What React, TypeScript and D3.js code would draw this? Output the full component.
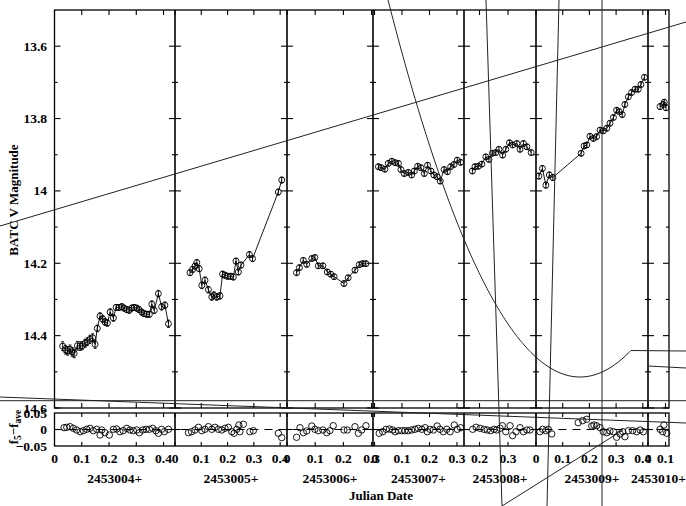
import React from "react";
import * as d3 from "d3";

// ---------- data ----------
const DATE_LABELS = ["2453004+", "2453005+", "2453006+", "2453007+", "2453008+", "2453009+", "2453010+"];
// visible day-fraction window of each night
const DAY_DOMAINS: [number, number][] = [
  [0, 0.442], [0, 0.426], [0, 0.305], [-0.0055, 0.3255], [0.1456, 0.398], [0, 0.4195], [0, 0.12],
];

// [day fraction, magnitude, error]
const N1: [number, number, number][] = [
  [0.030, 14.429, 0.012], [0.040, 14.439, 0.012], [0.048, 14.442, 0.012], [0.057, 14.438, 0.012],
  [0.065, 14.445, 0.012], [0.072, 14.449, 0.012], [0.084, 14.428, 0.012], [0.094, 14.429, 0.012],
  [0.102, 14.428, 0.011], [0.112, 14.421, 0.011], [0.120, 14.417, 0.011], [0.130, 14.410, 0.011],
  [0.140, 14.406, 0.011], [0.149, 14.424, 0.011], [0.157, 14.380, 0.009], [0.167, 14.346, 0.009],
  [0.177, 14.354, 0.009], [0.185, 14.362, 0.009], [0.194, 14.365, 0.009], [0.204, 14.335, 0.009],
  [0.216, 14.351, 0.009], [0.226, 14.322, 0.008], [0.237, 14.322, 0.008], [0.247, 14.320, 0.008],
  [0.255, 14.324, 0.008], [0.265, 14.328, 0.008], [0.274, 14.330, 0.008], [0.283, 14.324, 0.008],
  [0.292, 14.322, 0.008], [0.302, 14.324, 0.008], [0.310, 14.328, 0.008], [0.320, 14.335, 0.008],
  [0.328, 14.339, 0.008], [0.338, 14.341, 0.008], [0.348, 14.341, 0.008], [0.357, 14.313, 0.009],
  [0.366, 14.330, 0.009], [0.381, 14.284, 0.009], [0.393, 14.320, 0.009], [0.405, 14.316, 0.009],
  [0.418, 14.367, 0.010],
];
const N2: [number, number, number][] = [
  [0.057, 14.226, 0.008], [0.067, 14.217, 0.008], [0.076, 14.208, 0.008], [0.083, 14.198, 0.008],
  [0.092, 14.215, 0.008], [0.102, 14.261, 0.009], [0.114, 14.247, 0.009], [0.127, 14.273, 0.009],
  [0.140, 14.293, 0.009], [0.148, 14.288, 0.009], [0.159, 14.293, 0.009], [0.171, 14.290, 0.009],
  [0.181, 14.230, 0.008], [0.190, 14.233, 0.008], [0.200, 14.236, 0.008], [0.212, 14.236, 0.008],
  [0.222, 14.238, 0.008], [0.232, 14.194, 0.008], [0.241, 14.224, 0.008], [0.251, 14.205, 0.008],
  [0.283, 14.176, 0.008], [0.295, 14.187, 0.008], [0.393, 14.003, 0.008], [0.406, 13.970, 0.008],
];
const N3: [number, number, number][] = [
  [0.034, 14.226, 0.007], [0.044, 14.212, 0.007], [0.058, 14.192, 0.007], [0.070, 14.203, 0.007],
  [0.088, 14.187, 0.007], [0.099, 14.184, 0.007], [0.111, 14.207, 0.007], [0.127, 14.207, 0.007],
  [0.143, 14.224, 0.007], [0.155, 14.230, 0.007], [0.167, 14.237, 0.007], [0.202, 14.256, 0.007],
  [0.217, 14.240, 0.007], [0.241, 14.219, 0.007], [0.256, 14.204, 0.007], [0.268, 14.201, 0.007],
  [0.280, 14.201, 0.007],
];
const N4: [number, number, number][] = [
  [0.014, 13.933, 0.007], [0.024, 13.936, 0.007], [0.038, 13.940, 0.007], [0.050, 13.924, 0.007],
  [0.063, 13.918, 0.007], [0.075, 13.922, 0.007], [0.087, 13.924, 0.007], [0.096, 13.941, 0.007],
  [0.108, 13.952, 0.007], [0.123, 13.949, 0.007], [0.135, 13.956, 0.007], [0.145, 13.945, 0.007],
  [0.157, 13.932, 0.007], [0.169, 13.936, 0.007], [0.181, 13.952, 0.007], [0.193, 13.929, 0.007],
  [0.205, 13.945, 0.007], [0.216, 13.956, 0.007], [0.228, 13.961, 0.007], [0.239, 13.973, 0.007],
  [0.253, 13.941, 0.007], [0.265, 13.947, 0.007], [0.277, 13.933, 0.007], [0.289, 13.927, 0.007],
  [0.301, 13.915, 0.007], [0.313, 13.921, 0.007],
];
const N5: [number, number, number][] = [
  [0.175, 13.945, 0.007], [0.184, 13.933, 0.007], [0.196, 13.932, 0.007], [0.208, 13.926, 0.007],
  [0.222, 13.906, 0.007], [0.233, 13.913, 0.007], [0.245, 13.896, 0.007], [0.257, 13.894, 0.007],
  [0.268, 13.885, 0.007], [0.281, 13.901, 0.007], [0.292, 13.885, 0.007], [0.305, 13.867, 0.007],
  [0.316, 13.873, 0.007], [0.331, 13.869, 0.007], [0.342, 13.885, 0.007], [0.354, 13.869, 0.007],
  [0.366, 13.878, 0.007], [0.381, 13.894, 0.007],
];
const N6: [number, number, number][] = [
  [0.011, 13.959, 0.008], [0.024, 13.938, 0.008], [0.037, 13.984, 0.008], [0.050, 13.956, 0.008],
  [0.063, 13.963, 0.008], [0.169, 13.896, 0.007], [0.180, 13.876, 0.007], [0.190, 13.873, 0.007],
  [0.202, 13.849, 0.007], [0.215, 13.855, 0.007], [0.227, 13.850, 0.007], [0.240, 13.832, 0.007],
  [0.252, 13.834, 0.007], [0.265, 13.827, 0.007], [0.277, 13.813, 0.007], [0.290, 13.797, 0.007],
  [0.302, 13.777, 0.007], [0.312, 13.781, 0.007], [0.323, 13.789, 0.007], [0.333, 13.761, 0.007],
  [0.346, 13.740, 0.007], [0.358, 13.728, 0.007], [0.371, 13.719, 0.007], [0.383, 13.719, 0.007],
  [0.393, 13.706, 0.007], [0.406, 13.686, 0.007],
];
const N7: [number, number, number][] = [
  [0.069, 13.767, 0.008], [0.087, 13.761, 0.008], [0.093, 13.755, 0.008], [0.103, 13.770, 0.008],
];

// residuals [day fraction, f - f_ave]
const R1: [number, number][] = [
  [0.035, 0.0055], [0.045, 0.0067], [0.057, 0.0085], [0.069, 0.0036], [0.081, -0.0015], [0.094, -0.0067],
  [0.106, -0.0036], [0.118, 0.0006], [0.130, 0.0036], [0.142, -0.0036], [0.155, 0.0006], [0.167, -0.0167],
  [0.173, -0.0015], [0.185, -0.0097], [0.201, -0.0167], [0.216, 0.0006], [0.228, 0.0015], [0.240, -0.0067],
  [0.252, -0.0036], [0.265, 0.0036], [0.277, -0.0015], [0.289, -0.0036], [0.302, -0.0015], [0.311, -0.0097],
  [0.324, -0.0015], [0.336, 0.0006], [0.348, 0.0006], [0.360, 0.0036], [0.372, -0.0036], [0.381, -0.0115],
  [0.393, 0.0006], [0.403, -0.0067], [0.418, 0.0006],
];
const R2: [number, number][] = [
  [0.051, -0.0097], [0.063, -0.0067], [0.076, -0.0015], [0.089, 0.0067], [0.102, -0.0036], [0.114, 0.0006],
  [0.127, 0.0085], [0.140, 0.0006], [0.152, 0.0067], [0.165, 0.0006], [0.178, -0.0015], [0.190, 0.0036],
  [0.203, 0.0067], [0.216, -0.0067], [0.225, -0.0115], [0.235, 0.0006], [0.243, 0.0136], [0.247, -0.0067],
  [0.260, 0.0158], [0.285, -0.0067], [0.298, -0.0036], [0.393, -0.0115], [0.406, -0.0248],
];
const R3: [number, number][] = [
  [0.034, -0.0236], [0.046, 0.0055], [0.058, -0.0097], [0.070, -0.0045], [0.088, 0.0106], [0.099, 0.0006],
  [0.111, -0.0036], [0.127, -0.0015], [0.141, -0.0097], [0.152, -0.0036], [0.164, 0.0115], [0.202, -0.0015],
  [0.214, -0.0015], [0.241, 0.0085], [0.253, -0.0115], [0.265, -0.0015], [0.280, 0.0115],
];
const R4: [number, number][] = [
  [0.017, -0.0115], [0.030, -0.0067], [0.042, 0.0006], [0.054, 0.0015], [0.066, -0.0015], [0.075, -0.0067],
  [0.087, -0.0036], [0.099, -0.0036], [0.111, -0.0036], [0.123, -0.0036], [0.135, -0.0015], [0.147, 0.0006],
  [0.159, 0.0036], [0.172, 0.0006], [0.184, 0.0055], [0.192, -0.0067], [0.202, 0.0006], [0.214, -0.0015],
  [0.228, 0.0106], [0.238, 0.0006], [0.250, -0.0067], [0.263, 0.0006], [0.275, -0.0067], [0.290, 0.0136],
  [0.301, 0.0006], [0.313, 0.0055],
];
const R5: [number, number][] = [
  [0.176, 0.0006], [0.188, 0.0067], [0.202, 0.0036], [0.216, 0.0006], [0.227, -0.0015], [0.239, -0.0036],
  [0.251, 0.0006], [0.260, -0.0015], [0.272, 0.0036], [0.280, 0.0115], [0.292, -0.0067], [0.307, 0.0115],
  [0.316, -0.0188], [0.328, -0.0067], [0.342, 0.0055], [0.354, -0.0067], [0.366, -0.0015], [0.377, -0.0015],
];
const R6: [number, number][] = [
  [0.015, -0.0067], [0.025, 0.0006], [0.037, -0.0036], [0.046, 0.0006], [0.059, -0.0136], [0.158, 0.0206],
  [0.175, 0.0267], [0.190, 0.0309], [0.209, 0.0106], [0.217, 0.0136], [0.227, 0.0115], [0.240, 0.0055],
  [0.252, -0.0067], [0.265, -0.0097], [0.277, -0.0045], [0.290, -0.0067], [0.302, -0.0236], [0.315, -0.0136],
  [0.325, -0.0067], [0.333, -0.0218], [0.346, -0.0036], [0.362, -0.0036], [0.377, -0.0067], [0.390, -0.0015],
  [0.402, -0.0067],
];
const R7: [number, number][] = [
  [0.069, 0.0006], [0.084, -0.0067], [0.091, 0.0136], [0.107, -0.0115],
];

const NIGHTS = [N1, N2, N3, N4, N5, N6, N7];
const RESIDS = [R1, R2, R3, R4, R5, R6, R7];
const MAG_TICKS = [13.6, 13.8, 14, 14.2, 14.4, 14.6];
const MAG_MINOR = [13.7, 13.9, 14.1, 14.3, 14.5];
const RES_TICKS = [0.05, 0, -0.05];

// ---------- layout ----------
const W = 686, H = 506;
const EDGES = [54.5, 175, 287, 373, 464, 536, 648, 669];
const MAIN_TOP = 10, MAIN_BOT = 408;
const RES_TOP = 413, RES_BOT = 446;
const FONT = "'Liberation Serif', 'DejaVu Serif', serif";
const FS = 13.5;

const yMag = d3.scaleLinear().domain([13.5, 14.6]).range([MAIN_TOP, MAIN_BOT]);
const yRes = d3.scaleLinear().domain([-0.05, 0.05]).range([RES_BOT, RES_TOP]);
const xScales = DAY_DOMAINS.map((dom, i) => d3.scaleLinear().domain(dom).range([EDGES[i], EDGES[i + 1]]));

// stray scan artefacts present in the reference image (pixel space)
const STRAY_SEGMENTS: [number, number, number, number][] = [
  [0, 226, 686, 22],
  [0, 400.7, 686, 400.7],
  [0, 397, 686, 423],
  [648, 366, 686, 368],
  [486, 0, 502, 506],
  [559, 0, 547, 506],
  [602, 0, 602, 506],
  [502, 506, 623, 430],
  [631, 350.5, 686, 351],
];
const PARABOLA = { x0: 388, x1: 631, vx: 580, vy: 377, k: 0.01023 };

function tickVals(dom: [number, number]) {
  return d3.range(Math.ceil(dom[0] * 10 - 1e-6), Math.floor(dom[1] * 10 + 1e-6) + 1).map((k) => k / 10);
}
const fmt = (v: number) => (v === 0 ? "0" : v.toFixed(1));

export default function App() {
  const line = d3.line<[number, number, number]>();
  const parabolaPts: [number, number][] = d3
    .range(PARABOLA.x0, PARABOLA.x1 + 0.5, 1)
    .map((x) => [x, PARABOLA.vy - PARABOLA.k * (x - PARABOLA.vx) ** 2]);

  return (
    <svg width={W} height={H} style={{ position: "absolute", left: 0, top: 0, background: "#fff" }}
      fontFamily={FONT} fontWeight="bold">
      <rect x={0} y={0} width={W} height={H} fill="#fff" />

      {/* panel frames */}
      <g stroke="#000" fill="none">
        <rect x={EDGES[0]} y={MAIN_TOP} width={EDGES[7] - EDGES[0]} height={MAIN_BOT - MAIN_TOP} strokeWidth={1.3} />
        <rect x={EDGES[0]} y={RES_TOP} width={EDGES[7] - EDGES[0]} height={RES_BOT - RES_TOP} strokeWidth={1.3} />
        {EDGES.slice(1, 7).map((e, i) => (
          <g key={i} strokeWidth={1.6}>
            <line x1={e} x2={e} y1={MAIN_TOP} y2={MAIN_BOT} />
            <line x1={e} x2={e} y1={RES_TOP} y2={RES_BOT} />
          </g>
        ))}
      </g>

      {/* y ticks on every frame edge */}
      <g stroke="#000" strokeWidth={1.1}>
        {EDGES.map((e, i) => {
          const left = i > 0 ? 1 : 0;
          const right = i < 7 ? 1 : 0;
          return (
            <g key={i}>
              {MAG_TICKS.map((t) => (
                <line key={"M" + t} x1={e - 6 * left} x2={e + 6 * right} y1={yMag(t)} y2={yMag(t)} />
              ))}
              {MAG_MINOR.map((t) => (
                <line key={"m" + t} x1={e - 3 * left} x2={e + 3 * right} y1={yMag(t)} y2={yMag(t)} />
              ))}
              <line x1={e - 5 * left} x2={e + 5 * right} y1={yRes(0)} y2={yRes(0)} />
            </g>
          );
        })}
      </g>

      {/* x ticks & labels */}
      {xScales.map((xs, i) => {
        const tv = tickVals(DAY_DOMAINS[i]);
        return (
          <g key={i}>
            <g stroke="#000" strokeWidth={1.1}>
              {tv.map((t) => (
                <g key={t}>
                  <line x1={xs(t)} x2={xs(t)} y1={MAIN_TOP} y2={MAIN_TOP + 5} />
                  <line x1={xs(t)} x2={xs(t)} y1={MAIN_BOT} y2={MAIN_BOT - 5} />
                  <line x1={xs(t)} x2={xs(t)} y1={RES_TOP} y2={RES_TOP + 4} />
                  <line x1={xs(t)} x2={xs(t)} y1={RES_BOT} y2={RES_BOT - 4} />
                </g>
              ))}
            </g>
            {tv.map((t) => (
              <text key={"l" + t} x={xs(t)} y={463} fontSize={FS} textAnchor="middle">{fmt(t)}</text>
            ))}
            <text x={(EDGES[i] + EDGES[i + 1]) / 2} y={483} fontSize={FS} textAnchor="middle">{DATE_LABELS[i]}</text>
          </g>
        );
      })}

      {/* y tick labels */}
      {MAG_TICKS.map((t) => (
        <text key={t} x={47} y={yMag(t) + 4.5} fontSize={FS} textAnchor="end">{t === 14 ? "14" : t.toFixed(1)}</text>
      ))}
      {RES_TICKS.map((t) => (
        <text key={t} x={47} y={yRes(t) + 4.5} fontSize={FS} textAnchor="end">{t === 0 ? "0" : t < 0 ? "−0.05" : "0.05"}</text>
      ))}

      {/* axis titles */}
      <text x={381} y={500} fontSize={13} textAnchor="middle">Julian Date</text>
      <text transform="translate(18,200) rotate(-90)" fontSize={13} textAnchor="middle">BATC V Magnitude</text>
      <text transform="translate(18,427) rotate(-90)" fontSize={13} textAnchor="middle">
        f<tspan fontSize={9.5} dy={3}>5</tspan><tspan dy={-3}>−f</tspan><tspan fontSize={9.5} dy={3}>ave</tspan>
      </text>

      {/* residual zero line */}
      <line x1={EDGES[0]} x2={EDGES[7]} y1={yRes(0)} y2={yRes(0)} stroke="#000" strokeWidth={1} strokeDasharray="8,6" />

      {/* light curves */}
      {NIGHTS.map((pts, i) => {
        const xs = xScales[i];
        line.x((d) => xs(d[0])).y((d) => yMag(d[1]));
        return (
          <g key={i} stroke="#000" fill="none">
            <path d={line(pts) || ""} strokeWidth={0.9} />
            {pts.map((p, j) => (
              <g key={j} strokeWidth={0.9}>
                <line x1={xs(p[0])} x2={xs(p[0])} y1={yMag(p[1] - p[2])} y2={yMag(p[1] + p[2])} />
                <line x1={xs(p[0]) - 1.5} x2={xs(p[0]) + 1.5} y1={yMag(p[1] - p[2])} y2={yMag(p[1] - p[2])} />
                <line x1={xs(p[0]) - 1.5} x2={xs(p[0]) + 1.5} y1={yMag(p[1] + p[2])} y2={yMag(p[1] + p[2])} />
                <circle cx={xs(p[0])} cy={yMag(p[1])} r={3} />
              </g>
            ))}
          </g>
        );
      })}

      {/* residuals */}
      {RESIDS.map((pts, i) => (
        <g key={i} stroke="#000" fill="none" strokeWidth={0.9}>
          {pts.map((p, j) => (
            <circle key={j} cx={xScales[i](p[0])} cy={yRes(p[1])} r={3.2} />
          ))}
        </g>
      ))}

      {/* stray artefacts */}
      <g stroke="#222" strokeWidth={1} fill="none">
        {STRAY_SEGMENTS.map((s, i) => (
          <line key={i} x1={s[0]} y1={s[1]} x2={s[2]} y2={s[3]} />
        ))}
        <path d={d3.line()(parabolaPts) || ""} />
      </g>
    </svg>
  );
}
